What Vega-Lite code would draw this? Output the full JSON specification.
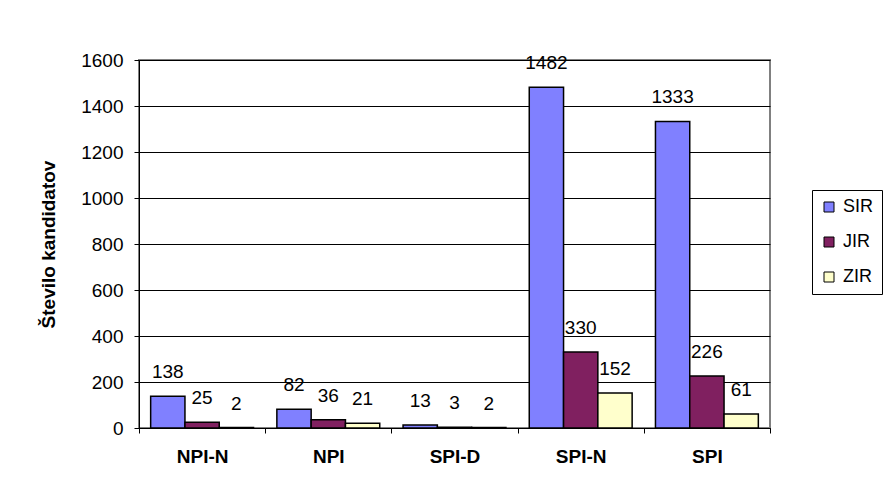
{
  "$schema": "https://vega.github.io/schema/vega-lite/v6.json",
  "width": 631,
  "height": 368,
  "autosize": "none",
  "padding": {"left": 139, "top": 60, "right": 120, "bottom": 75},
  "background": "white",
  "config": {
    "font": "Liberation Sans",
    "view": {"stroke": "#808080", "strokeWidth": 2},
    "axis": {"labelColor": "#000", "titleColor": "#000", "domainColor": "#000", "tickColor": "#000", "gridColor": "#000", "gridOpacity": 1, "labelFont": "Liberation Sans", "titleFont": "Liberation Sans"}
  },
  "data": {
    "values": [
      {"kat": "NPI-N", "serija": "SIR", "n": 138},
      {"kat": "NPI-N", "serija": "JIR", "n": 25},
      {"kat": "NPI-N", "serija": "ZIR", "n": 2},
      {"kat": "NPI", "serija": "SIR", "n": 82},
      {"kat": "NPI", "serija": "JIR", "n": 36},
      {"kat": "NPI", "serija": "ZIR", "n": 21},
      {"kat": "SPI-D", "serija": "SIR", "n": 13},
      {"kat": "SPI-D", "serija": "JIR", "n": 3},
      {"kat": "SPI-D", "serija": "ZIR", "n": 2},
      {"kat": "SPI-N", "serija": "SIR", "n": 1482},
      {"kat": "SPI-N", "serija": "JIR", "n": 330},
      {"kat": "SPI-N", "serija": "ZIR", "n": 152},
      {"kat": "SPI", "serija": "SIR", "n": 1333},
      {"kat": "SPI", "serija": "JIR", "n": 226},
      {"kat": "SPI", "serija": "ZIR", "n": 61}
    ]
  },
  "encoding": {
    "x": {
      "field": "kat", "type": "nominal", "sort": ["NPI-N", "NPI", "SPI-D", "SPI-N", "SPI"],
      "scale": {"paddingInner": 0, "paddingOuter": 0},
      "axis": {"title": null, "labelAngle": 0, "labelFontSize": 19, "labelFontWeight": "bold", "tickBand": "extent", "tickSize": 5, "labelPadding": 14, "domainWidth": 1}
    },
    "xOffset": {
      "field": "serija", "type": "nominal", "sort": ["SIR", "JIR", "ZIR"],
      "scale": {"paddingInner": 0, "paddingOuter": 0.34}
    },
    "y": {
      "field": "n", "type": "quantitative",
      "scale": {"domain": [0, 1600], "nice": false},
      "axis": {"title": "Število kandidatov", "format": "d", "titleFontSize": 19, "titleFontWeight": "bold", "titlePadding": 22, "labelFontSize": 19, "values": [0, 200, 400, 600, 800, 1000, 1200, 1400, 1600], "tickSize": 5, "labelPadding": 11, "grid": true, "gridWidth": 1}
    }
  },
  "layer": [
    {
      "mark": {"type": "bar", "stroke": "#000", "strokeWidth": 1.5},
      "encoding": {
        "color": {
          "field": "serija", "type": "nominal", "sort": ["SIR", "JIR", "ZIR"],
          "scale": {"domain": ["SIR", "JIR", "ZIR"], "range": ["#8080FF", "#802060", "#FFFFCC"]},
          "legend": {
            "title": null, "orient": "none", "legendX": 673, "legendY": 130,
            "strokeColor": "#000", "fillColor": "#fff", "padding": 8,
            "symbolType": "square", "symbolSize": 100, "symbolStrokeColor": "#000", "symbolStrokeWidth": 1, "symbolOpacity": 1,
            "labelFontSize": 18, "labelColor": "#000", "labelOffset": 5, "rowPadding": 17
          }
        }
      }
    },
    {
      "mark": {"type": "text", "fontSize": 19, "color": "#000", "baseline": "alphabetic", "dy": -18},
      "encoding": {"text": {"field": "n", "type": "quantitative"}}
    }
  ]
}
